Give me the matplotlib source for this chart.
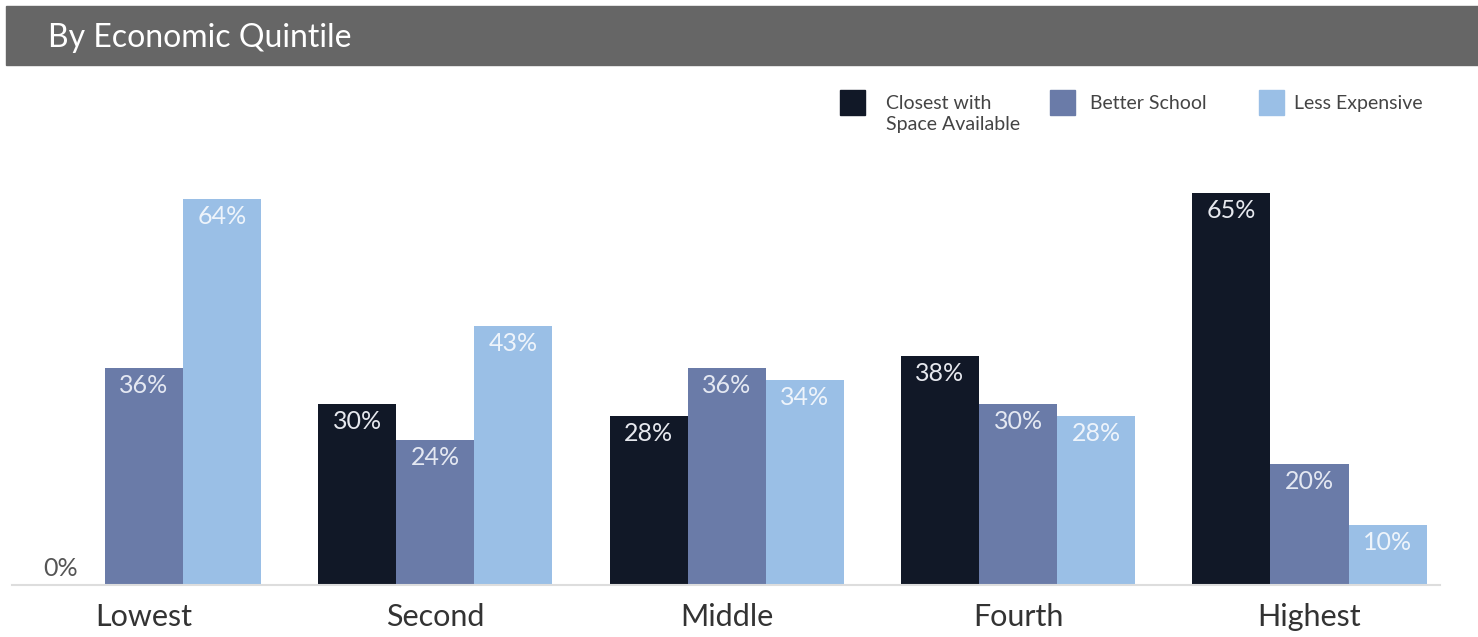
import numpy as np
import matplotlib
matplotlib.use("Agg")
import matplotlib.pyplot as plt
from matplotlib.patches import Rectangle

categories = ["Lowest", "Second", "Middle", "Fourth", "Highest"]
series = ["Closest with\nSpace Available", "Better School", "Less Expensive"]
closest = [0, 30, 28, 38, 65]
better = [36, 24, 36, 30, 20]
cheaper = [64, 43, 34, 28, 10]
colors = ["#111827", "#6a7ba8", "#9abfe6"]
label_colors = ["#e6e8ee", "#e4e8f2", "#eef4fb"]

plt.rcParams["font.family"] = ["Lato", "DejaVu Sans"]

W, H = 1478, 637
fig = plt.figure(figsize=(W / 100, H / 100), dpi=100)

# header band
fig.patches.append(Rectangle((6 / W, 1 - 65 / H), 1 - 6 / W, 59 / H,
                             transform=fig.transFigure, color="#666666", zorder=0))
fig.text(48 / W, 1 - 38 / H, "By Economic Quintile", color="white",
         fontsize=23, va="center", ha="left")

# axes: baseline at y=585px, left 12px, right 1440px
ax_l, ax_r = 12 / W, 1440 / W
ax_b, ax_t = 1 - 585 / H, 1 - 150 / H
ax = fig.add_axes([ax_l, ax_b, ax_r - ax_l, ax_t - ax_b])

x = np.arange(len(categories))
bw = 0.268
vals = [closest, better, cheaper]
for i, v in enumerate(vals):
    xs = x + (i - 1) * bw
    ax.bar(xs, v, width=bw, color=colors[i], linewidth=0)
    for xi, vi in zip(xs, v):
        if vi == 0:
            ax.text(xi - 0.02, 0.9, f"{vi}%", ha="center", va="bottom",
                    color="#555555", fontsize=18)
        else:
            ax.text(xi, vi - 1.0, f"{vi}%", ha="center", va="top",
                    color=label_colors[i], fontsize=18)

ax.set_xlim(-0.453, 4.448)
ax.set_ylim(0, 72.1)
for s in ["top", "right", "left"]:
    ax.spines[s].set_visible(False)
ax.spines["bottom"].set_color("#dddddd")
ax.spines["bottom"].set_linewidth(1.5)
ax.set_yticks([])
ax.set_xticks(x)
ax.set_xticklabels(categories, fontsize=22, color="#333333")
ax.tick_params(axis="x", length=0, pad=13)

# legend
leg_x = [840, 1050, 1259]
text_off = [46, 40, 35]
for i, name in enumerate(series):
    fig.patches.append(Rectangle((leg_x[i] / W, 1 - 115 / H), 25 / W, 25 / H,
                                 transform=fig.transFigure, color=colors[i]))
    fig.text((leg_x[i] + text_off[i]) / W, 1 - 95 / H, name, fontsize=14,
             color="#444444", va="top", ha="left", linespacing=1.3)

fig.savefig("out.png", dpi=100)
